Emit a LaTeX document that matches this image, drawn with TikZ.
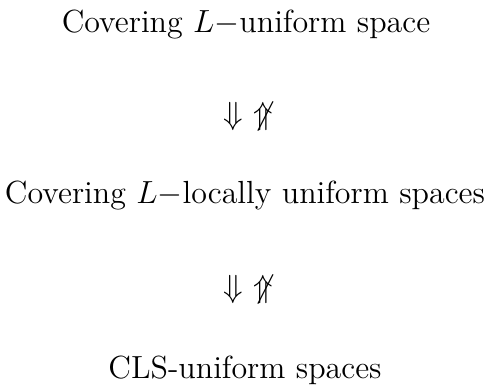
\documentclass[12pt,tikz,border=0pt]{standalone}
\usepackage{amsmath,amssymb}
\usetikzlibrary{positioning}

\begin{document}
\begin{tikzpicture}[x=0.375pt, y=-0.375pt,
  space/.style={anchor=base, inner sep=0pt},
  impl/.style={anchor=base, inner sep=0pt}]
\useasboundingbox (0,0) rectangle (489,385);
\node[space] (cov) at (246,32) {Covering $L-$uniform space};
\node[impl] (i1) at (248,124) {$\Downarrow$ $\not\Uparrow$};
\node[space] (loc) at (245,203) {Covering $L-$locally uniform spaces};
\node[impl] (i2) at (248,297) {$\Downarrow$ $\not\Uparrow$};
\node[space] (cls) at (245,378) {CLS-uniform spaces};
\end{tikzpicture}
\end{document}
